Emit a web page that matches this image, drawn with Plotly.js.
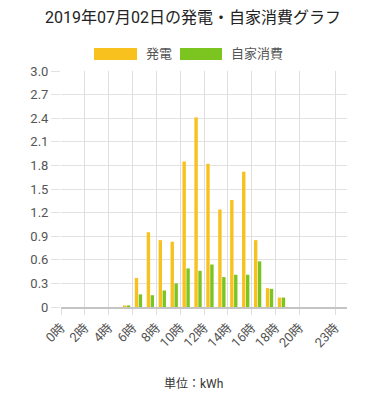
<!DOCTYPE html>
<html>
<head>
<meta charset="utf-8">
<script src="https://cdn.plot.ly/plotly-3.0.1.min.js"></script>
<style>html,body{margin:0;padding:0;background:#fff;}#chart{width:386px;height:400px;}</style>
</head>
<body>
<div id="chart"></div>
<script>
const hours = [0,1,2,3,4,5,6,7,8,9,10,11,12,13,14,15,16,17,18,19,20,21,22,23];
const generation = [0,0,0,0,0,0.02,0.37,0.95,0.85,0.83,1.85,2.41,1.82,1.24,1.36,1.72,0.85,0.24,0.12,0,0,0,0,0];
const selfConsumption = [0,0,0,0,0,0.02,0.16,0.15,0.21,0.30,0.49,0.46,0.54,0.38,0.41,0.41,0.58,0.23,0.12,0,0,0,0,0];
const xTickVals = [0,2,4,6,8,10,12,14,16,18,20,23];
const xTickText = ['0時','2時','4時','6時','8時','10時','12時','14時','16時','18時','20時','23時'];
const yTickVals = [0,0.3,0.6,0.9,1.2,1.5,1.8,2.1,2.4,2.7,3.0];
const yTickText = ['0','0.3','0.6','0.9','1.2','1.5','1.8','2.1','2.4','2.7','3.0'];
const seriesNames = ['発電','自家消費'];
const colors = ['#f9c11d','#7cc41f'];

const xCenter = hours.map(h => h + 0.5);
const FONT = 'Roboto, "Noto Sans CJK JP", sans-serif';

const traces = [
  {type:'bar', x:xCenter, y:generation, name:seriesNames[0], marker:{color:colors[0]}, hoverinfo:'none'},
  {type:'bar', x:xCenter, y:selfConsumption, name:seriesNames[1], marker:{color:colors[1]}, hoverinfo:'none'}
];

const L=61, R=39, T=71, B=93, W=386, H=400;
const pw = W-L-R, ph = H-T-B;
const px = X => (X-L)/pw;
const py = Y => (H-B-Y)/ph;

const layout = {
  width:W, height:H,
  margin:{l:L, r:R, t:T, b:B, pad:0},
  paper_bgcolor:'#fff', plot_bgcolor:'#fff',
  font:{family:FONT, color:'#555', size:13},
  showlegend:false,
  barmode:'group', bargap:0.34, bargroupgap:0.14,
  title:{text:'2019年07月02日の発電・自家消費グラフ', font:{family:FONT, size:16, color:'#222'},
         x:0.5, xanchor:'center', y:1-17/400, yanchor:'middle', xref:'container', yref:'container'},
  xaxis:{type:'linear', range:[0,24], tickvals:xTickVals, ticktext:xTickText, tickangle:-45,
         showgrid:true, gridcolor:'#dedede', gridwidth:1, zeroline:false,
         showline:true, linecolor:'#c4c4c4', linewidth:2,
         ticks:'outside', ticklen:6, tickcolor:'#dedede', tickfont:{size:13, color:'#555'}, fixedrange:true},
  yaxis:{range:[0,3.0], tickvals:yTickVals, ticktext:yTickText,
         showgrid:true, gridcolor:'#e2e2e2', gridwidth:1, zeroline:false, showline:false,
         ticks:'outside', ticklen:9, tickcolor:'#e2e2e2', tickfont:{size:13, color:'#555'}, fixedrange:true},
  shapes:[
    {type:'rect', xref:'paper', yref:'paper', x0:px(94), x1:px(137), y0:py(60), y1:py(48), fillcolor:colors[0], line:{width:0}},
    {type:'rect', xref:'paper', yref:'paper', x0:px(180), x1:px(222), y0:py(60), y1:py(48), fillcolor:colors[1], line:{width:0}}
  ],
  annotations:[
    {xref:'paper', yref:'paper', x:px(144), y:py(54), xanchor:'left', yanchor:'middle', showarrow:false,
     text:seriesNames[0], font:{family:FONT, size:13, color:'#555'}},
    {xref:'paper', yref:'paper', x:px(229), y:py(54), xanchor:'left', yanchor:'middle', showarrow:false,
     text:seriesNames[1], font:{family:FONT, size:13, color:'#555'}},
    {xref:'paper', yref:'paper', x:px(193), y:py(384), xanchor:'center', yanchor:'middle', showarrow:false,
     text:'単位：kWh', font:{family:FONT, size:12, color:'#333'}}
  ]
};

Plotly.newPlot('chart', traces, layout, {displayModeBar:false, staticPlot:true});
</script>
</body>
</html>
